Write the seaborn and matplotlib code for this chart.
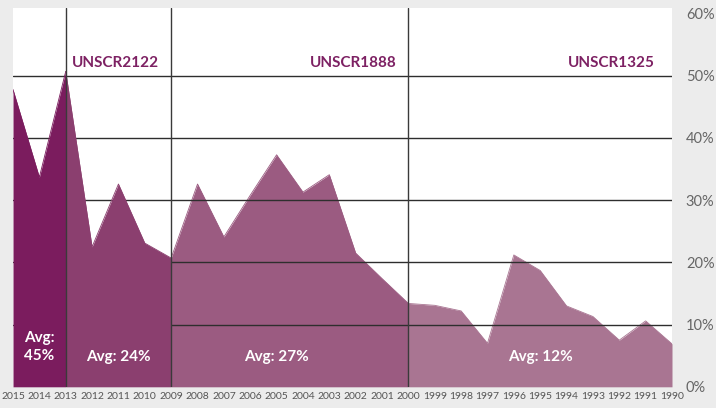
import matplotlib
matplotlib.use("Agg")
import matplotlib.pyplot as plt
import seaborn as sns
import pandas as pd

# data
years = [2015, 2014, 2013, 2012, 2011, 2010, 2009, 2008, 2007, 2006, 2005, 2004, 2003,
         2002, 2001, 2000, 1999, 1998, 1997, 1996, 1995, 1994, 1993, 1992, 1991, 1990]
share = [47.8, 33.7, 50.7, 22.5, 32.6, 23.1, 20.7, 32.6, 24.1, 30.8, 37.3, 31.3, 34.1,
         21.5, 17.4, 13.4, 13.1, 12.2, 7.0, 21.2, 18.7, 13.0, 11.3, 7.5, 10.6, 6.9]

period_start = [2015, 2013, 2009, 2000]
period_end = [2013, 2009, 2000, 1990]
period_colors = ["#7b1c5e", "#8b3f6f", "#9b5b81", "#a97592"]
period_avg = ["Avg:\n45%", "Avg: 24%", "Avg: 27%", "Avg: 12%"]
resolutions = ["UNSCR2122", "UNSCR1888", "UNSCR1325"]
res_lines = [2013, 2009, 2000]

df = pd.DataFrame({"year": years, "share": share})

sns.set_theme(style="white")
plt.rcParams["font.family"] = ["Lato", "DejaVu Sans"]

fig = plt.figure(figsize=(7.16, 4.08), dpi=100, facecolor="#ececec")
ax = fig.add_axes([13 / 716, 1 - 386.8 / 408, 659 / 716, 378.8 / 408])
ax.set_facecolor("white")

# gridlines (10-50%)
for g in [10, 20, 30, 40, 50]:
    ax.axhline(g, color="#2e2e2e", lw=1, zorder=2)

# areas per period; the two recent periods sit above the grid
for i, (s, e) in enumerate(zip(period_start, period_end)):
    seg = df[(df["year"] <= s) & (df["year"] >= e)]
    z = 3 if i < 2 else 1
    ax.fill_between(seg["year"], 0, seg["share"], color=period_colors[i], lw=0, zorder=z)
    sns.lineplot(data=seg, x="year", y="share", ax=ax, color=period_colors[i],
                 lw=0.6, zorder=z)

for x in res_lines:
    ax.axvline(x, color="#3a3a3a", lw=1, zorder=4)

# average labels
avg_x = [2014, 2011, 2005, 1995]
avg_y = [6.4, 4.8, 4.8, 4.8]
for x, y, t in zip(avg_x, avg_y, period_avg):
    ax.text(x, y, t, color="white", fontsize=11, fontweight="bold", ha="center",
            va="center", zorder=5, linespacing=1.3)

# resolution labels
res_x = [2012.76, 2000.43, 1990.64]
res_ha = ["left", "right", "right"]
for x, t, ha in zip(res_x, resolutions, res_ha):
    ax.text(x, 50.9, t, color="#7d2163", fontsize=11, fontweight="bold", ha=ha,
            va="bottom", zorder=5)

ax.set_xlim(2015, 1990)
ax.set_ylim(0, 60.9)
ax.set_xticks(years)
ax.set_xticklabels([str(y) for y in years], fontsize=7.5, color="#555555")
ax.set_yticks([0, 10, 20, 30, 40, 50, 60])
ax.set_yticklabels(["0%", "10%", "20%", "30%", "40%", "50%", "60%"], fontsize=10.5,
                   color="#666666")
ax.yaxis.tick_right()
ax.tick_params(axis="y", length=0, pad=10)
ax.tick_params(axis="x", length=0, pad=4)
ax.set_xlabel("")
ax.set_ylabel("")
for sp in ax.spines.values():
    sp.set_visible(False)

fig.savefig("out.png", dpi=100, facecolor=fig.get_facecolor())
